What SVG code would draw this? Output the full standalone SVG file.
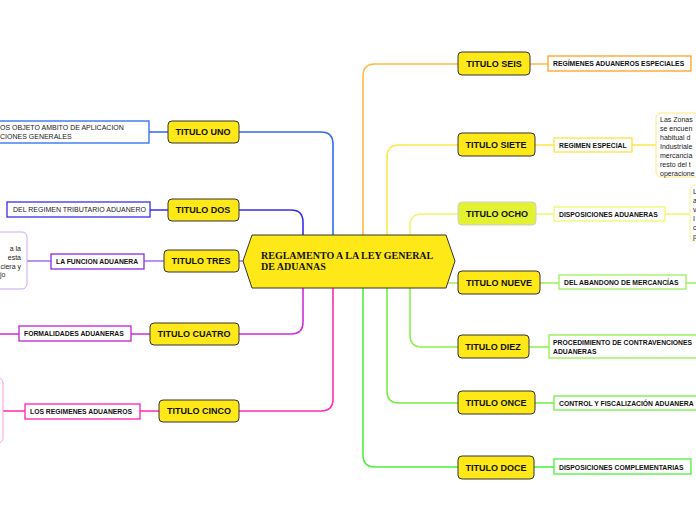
<svg xmlns="http://www.w3.org/2000/svg" width="696" height="520" viewBox="0 0 696 520">
<style>
.t{fill:#ffe817;stroke:#333;stroke-width:1;}
.tt{font-family:"Liberation Sans",Arial,sans-serif;font-weight:bold;font-size:9px;fill:#111;}
.s{fill:#fff;stroke-width:1.3;}
.st{font-family:"Liberation Sans",Arial,sans-serif;font-weight:bold;font-size:6.8px;fill:#111;}
.n{font-family:"Liberation Sans",Arial,sans-serif;font-size:7px;fill:#222;}
.c{fill:none;stroke-width:1.6;}
</style>
<rect width="696" height="520" fill="#fff"/>
<g id="connectors">
<path class="c" stroke="#ffb947" d="M363,261 V76 Q363,64 375,64 H458 M530,64 H548"/>
<path class="c" stroke="#ffe64a" d="M387,261 V157 Q387,145 399,145 H458 M535,145 H554 M632,145 H656"/>
<path class="c" stroke="#eef76a" d="M410,261 V226 Q410,214 422,214 H458 M536,214 H554 M665,214 H690"/>
<path class="c" stroke="#9ef05a" d="M440,283 H458 M540,283 H559 M686,283 H696"/>
<path class="c" stroke="#8ef04a" d="M410,261 V335 Q410,347 422,347 H458 M529,347 H549"/>
<path class="c" stroke="#70f040" d="M387,261 V391 Q387,403 399,403 H458 M535,403 H554"/>
<path class="c" stroke="#4cf03a" d="M363,261 V455 Q363,467 375,467 H458 M534,467 H554"/>
<path class="c" stroke="#2f6af0" d="M333,261 V144 Q333,132 321,132 H239 M168,132 H149"/>
<path class="c" stroke="#3a2ee8" d="M303,261 V222 Q303,210 291,210 H239 M168,210 H150"/>
<path class="c" stroke="#a070f0" d="M250,261 H239 M164,261 H144 M51,261 H27"/>
<path class="c" stroke="#d02be0" d="M303,261 V322 Q303,334 291,334 H239 M150,334 H131 M19,334 H0"/>
<path class="c" stroke="#ff2bb0" d="M333,261 V399 Q333,411 321,411 H239 M159,411 H140 M25,411 H3"/>
</g>
<g id="center">
<polygon points="252,235 446,235 455,261 446,288 252,288 243,261" fill="#ffe817" stroke="#333" stroke-width="1"/>
<text x="261" y="259" font-family="Liberation Serif,serif" font-weight="bold" font-size="10px" fill="#111">REGLAMENTO A LA LEY GENERAL</text>
<text x="261" y="270" font-family="Liberation Serif,serif" font-weight="bold" font-size="10px" fill="#111">DE ADUANAS</text>
</g>
<g id="seis"><rect class="t" x="458" y="52" width="72" height="23" rx="4"/><text class="tt" x="494" y="67" text-anchor="middle">TITULO SEIS</text></g>
<g id="seis-s"><rect class="s" stroke="#ffa020" x="548" y="56" width="143" height="15"/><text class="st" x="553" y="66">REGÍMENES ADUANEROS ESPECIALES</text></g>
<g id="siete"><rect class="t" x="458" y="133" width="77" height="23" rx="4"/><text class="tt" x="496" y="148" text-anchor="middle">TITULO SIETE</text></g>
<g id="siete-s"><rect class="s" stroke="#ffe040" x="554" y="138" width="78" height="14"/><text class="st" x="559" y="148">REGIMEN ESPECIAL</text></g>
<g id="siete-n"><rect fill="#fff" stroke="#ffe680" x="656" y="113" width="50" height="64" rx="5"/>
<text class="n" x="660" y="122">Las Zonas</text><text class="n" x="660" y="131">se encuen</text><text class="n" x="660" y="140">habitual d</text><text class="n" x="660" y="149">Industriale</text><text class="n" x="660" y="158">mercancia</text><text class="n" x="660" y="167">resto del t</text><text class="n" x="660" y="176">operacione</text></g>
<g id="ocho"><rect fill="#e2f230" stroke="#ccd" x="458" y="202" width="78" height="23" rx="4"/><text class="tt" x="497" y="217" text-anchor="middle">TITULO OCHO</text></g>
<g id="ocho-s"><rect class="s" stroke="#eef76a" x="554" y="207" width="111" height="14"/><text class="st" x="559" y="217">DISPOSICIONES ADUANERAS</text></g>
<g id="ocho-n"><rect fill="#fff" stroke="#eef78a" x="690" y="185" width="20" height="56" rx="5"/>
<text class="n" x="693" y="194">L</text><text class="n" x="693" y="203">a</text><text class="n" x="693" y="212">v</text><text class="n" x="693" y="221">I</text><text class="n" x="693" y="230">c</text><text class="n" x="693" y="239">p</text></g>
<g id="nueve"><rect class="t" x="458" y="271" width="82" height="23" rx="4"/><text class="tt" x="499" y="286" text-anchor="middle">TITULO NUEVE</text></g>
<g id="nueve-s"><rect class="s" stroke="#9ef05a" x="559" y="275" width="127" height="14"/><text class="st" x="564" y="285">DEL ABANDONO DE MERCANCÍAS</text></g>
<g id="diez"><rect class="t" x="458" y="335" width="71" height="23" rx="4"/><text class="tt" x="493" y="350" text-anchor="middle">TITULO DIEZ</text></g>
<g id="diez-s"><rect class="s" stroke="#8ef04a" x="549" y="335" width="155" height="23"/><text class="st" x="553" y="345">PROCEDIMIENTO DE CONTRAVENCIONES</text><text class="st" x="553" y="354">ADUANERAS</text></g>
<g id="once"><rect class="t" x="458" y="391" width="77" height="23" rx="4"/><text class="tt" x="496" y="406" text-anchor="middle">TITULO ONCE</text></g>
<g id="once-s"><rect class="s" stroke="#70f040" x="554" y="396" width="150" height="14"/><text class="st" x="559" y="406">CONTROL Y FISCALIZACIÓN ADUANERA</text></g>
<g id="doce"><rect class="t" x="458" y="456" width="76" height="23" rx="4"/><text class="tt" x="496" y="471" text-anchor="middle">TITULO DOCE</text></g>
<g id="doce-s"><rect class="s" stroke="#4cf03a" x="554" y="459" width="137" height="15"/><text class="st" x="559" y="470">DISPOSICIONES COMPLEMENTARIAS</text></g>
<g id="uno"><rect class="t" x="168" y="121" width="71" height="22" rx="4"/><text class="tt" x="203" y="135" text-anchor="middle">TITULO UNO</text></g>
<g id="uno-s"><rect class="s" stroke="#2f6af0" x="-10" y="121" width="159" height="22"/><text class="n" x="0" y="130">OS OBJETO AMBITO DE APLICACION</text><text class="n" x="0" y="139">CIONES GENERALES</text></g>
<g id="dos"><rect class="t" x="168" y="199" width="71" height="22" rx="4"/><text class="tt" x="203" y="213" text-anchor="middle">TITULO DOS</text></g>
<g id="dos-s"><rect class="s" stroke="#3a2ee8" x="7" y="202" width="143" height="15"/><text class="n" x="13" y="212">DEL REGIMEN TRIBUTARIO ADUANERO</text></g>
<g id="tres"><rect class="t" x="164" y="250" width="75" height="22" rx="4"/><text class="tt" x="201" y="264" text-anchor="middle">TITULO TRES</text></g>
<g id="tres-s"><rect class="s" stroke="#8a2be2" x="51" y="254" width="93" height="15"/><text class="st" x="56" y="264">LA FUNCION ADUANERA</text></g>
<g id="tres-n"><rect fill="#fff" stroke="#c8a8f0" x="-10" y="232" width="37" height="57" rx="5"/>
<text class="n" x="21" y="251" text-anchor="end">a la</text><text class="n" x="21" y="260" text-anchor="end">esta</text><text class="n" x="21" y="269" text-anchor="end">ciera y</text><text class="n" x="0" y="277">jo</text></g>
<g id="cuatro"><rect class="t" x="150" y="323" width="89" height="22" rx="4"/><text class="tt" x="194" y="337" text-anchor="middle">TITULO CUATRO</text></g>
<g id="cuatro-s"><rect class="s" stroke="#c020d0" x="19" y="326" width="112" height="15"/><text class="st" x="24" y="336">FORMALIDADES ADUANERAS</text></g>
<g id="cinco"><rect class="t" x="159" y="400" width="80" height="22" rx="4"/><text class="tt" x="199" y="414" text-anchor="middle">TITULO CINCO</text></g>
<g id="cinco-s"><rect class="s" stroke="#ff1fb0" x="25" y="404" width="115" height="15"/><text class="st" x="30" y="414">LOS REGIMENES ADUANEROS</text></g>
<g id="cinco-n"><rect fill="#fff" stroke="#ff9ee0" x="-20" y="378" width="23" height="65" rx="5"/></g>
</svg>
